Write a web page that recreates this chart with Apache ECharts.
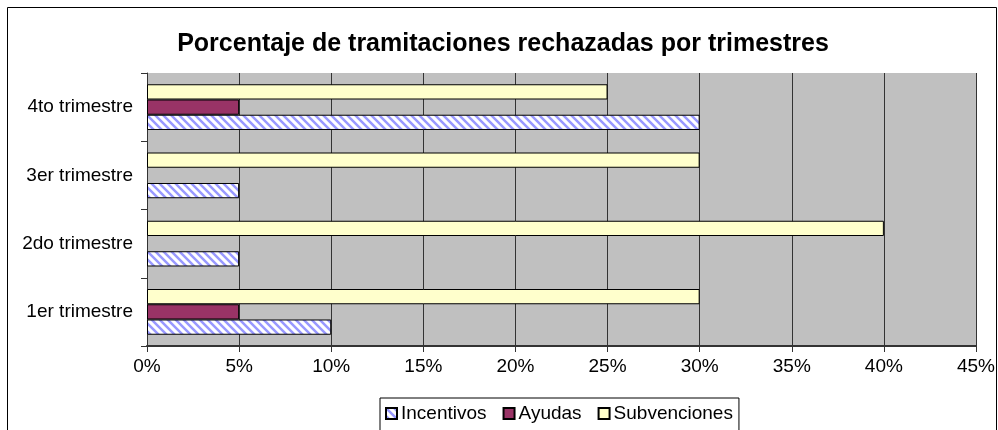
<!DOCTYPE html>
<html>
<head>
<meta charset="utf-8">
<script src="https://cdn.jsdelivr.net/npm/echarts@6/dist/echarts.min.js"></script>
<style>
  html, body { margin: 0; padding: 0; background: #fff; }
  #chart { width: 998px; height: 430px; }
</style>
</head>
<body>
<div id="chart"></div>
<script>
var categories = ['1er trimestre', '2do trimestre', '3er trimestre', '4to trimestre'];
var incentivos = [10, 5, 5, 30];
var ayudas = [5, 0, 0, 5];
var subvenciones = [30, 40, 30, 25];

// rayado diagonal para Incentivos
var pat = document.createElement('canvas');
pat.width = 8; pat.height = 8;
var ctx = pat.getContext('2d');
ctx.fillStyle = '#ffffff';
ctx.fillRect(0, 0, 8, 8);
ctx.strokeStyle = '#9999ff';
ctx.lineWidth = 2.5;
ctx.beginPath();
ctx.moveTo(-2, -2); ctx.lineTo(10, 10);
ctx.moveTo(-2, 6); ctx.lineTo(2, 10);
ctx.moveTo(6, -2); ctx.lineTo(10, 2);
ctx.stroke();

// barras con valor 0 sin borde
function toData(arr) {
    return arr.map(function (v) {
        return v === 0 ? { value: v, itemStyle: { borderWidth: 0 } } : v;
    });
}

var font = 'Liberation Sans';
var chart = echarts.init(document.getElementById('chart'));

var option = {
    animation: false,
    backgroundColor: '#ffffff',
    title: {
        text: 'Porcentaje de tramitaciones rechazadas por trimestres',
        left: 498,
        textAlign: 'center',
        top: 27,
        textStyle: { fontFamily: font, fontSize: 25, fontWeight: 'bold', color: '#000' }
    },
    graphic: [{
        type: 'rect',
        shape: { x: 7.5, y: 7.5, width: 989, height: 440 },
        style: { fill: null, stroke: '#000', lineWidth: 1 },
        silent: true
    }],
    legend: {
        top: 398,
        left: 380,
        icon: 'rect',
        itemWidth: 11,
        itemHeight: 11,
        itemGap: 16,
        padding: [6, 6, 8, 5],
        borderColor: '#000',
        borderWidth: 1,
        textStyle: { fontFamily: font, fontSize: 19, color: '#000', padding: [0, 0, 0, -1] },
        data: ['Incentivos', 'Ayudas', 'Subvenciones']
    },
    grid: {
        left: 147,
        right: 22,
        top: 73,
        bottom: 84,
        show: true,
        backgroundColor: '#c0c0c0',
        borderWidth: 0
    },
    xAxis: {
        type: 'value',
        min: 0,
        max: 45,
        interval: 5,
        axisLine: { show: true, lineStyle: { color: '#333', width: 2 } },
        axisTick: { show: true, length: 6, lineStyle: { color: '#333' } },
        axisLabel: { formatter: '{value}%', fontFamily: font, fontSize: 19, color: '#000', margin: 11 },
        splitLine: { show: true, lineStyle: { color: '#333', width: 1 } }
    },
    yAxis: {
        type: 'category',
        data: categories,
        axisLine: { show: true, lineStyle: { color: '#333', width: 1 } },
        axisTick: { show: true, length: 6, lineStyle: { color: '#333' } },
        axisLabel: { fontFamily: font, fontSize: 19, color: '#000', margin: 14 },
        splitLine: { show: false }
    },
    series: [
        {
            name: 'Subvenciones',
            type: 'bar',
            data: toData(subvenciones),
            barGap: '0%',
            barCategoryGap: '33%',
            itemStyle: { color: '#ffffcc', borderColor: '#000', borderWidth: 1 }
        },
        {
            name: 'Ayudas',
            type: 'bar',
            data: toData(ayudas),
            itemStyle: { color: '#993366', borderColor: '#000', borderWidth: 1 }
        },
        {
            name: 'Incentivos',
            type: 'bar',
            data: toData(incentivos),
            itemStyle: { color: { image: pat, repeat: 'repeat' }, borderColor: '#000', borderWidth: 1 }
        }
    ]
};

chart.setOption(option);
</script>
</body>
</html>
